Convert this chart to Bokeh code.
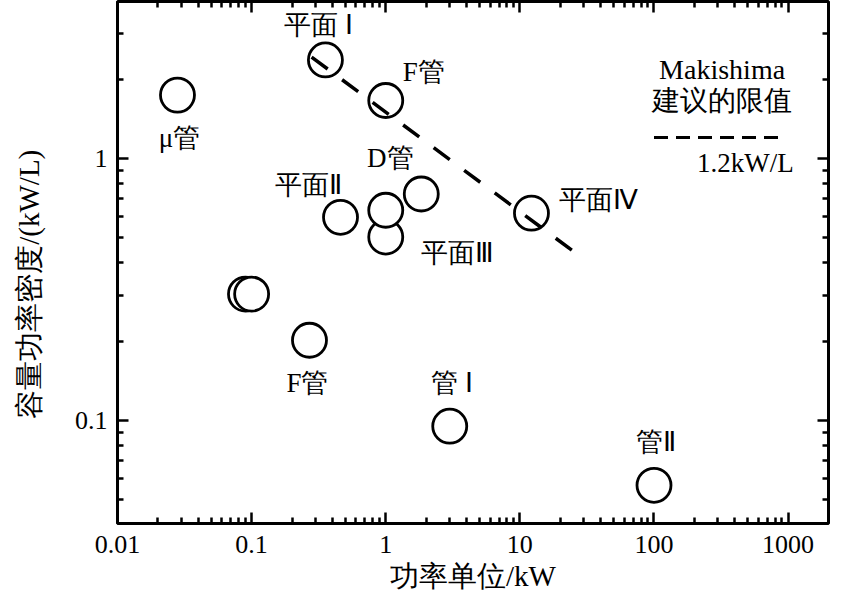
from bokeh.plotting import figure
from bokeh.models import LogAxis, FixedTicker, Range1d, ColumnDataSource
from bokeh.core.properties import value
from bokeh.embed import file_html
from bokeh.resources import INLINE

# ---- data ----
power_kw = [0.028, 0.355, 1.0, 1.84, 0.46, 1.0, 12.2, 0.27, 3.0, 100.0, 0.09, 0.1, 1.0]
density = [1.74, 2.37, 1.66, 0.73, 0.595, 0.50, 0.617, 0.202, 0.095, 0.0565, 0.303, 0.303, 0.633]
point_labels = ["μ管", "平面 Ⅰ", "F管", "D管", "平面Ⅱ", "平面Ⅲ", "平面Ⅳ", "F管", "管 Ⅰ", "管Ⅱ", "", "", ""]
label_dx = [2, -7, 38, -31, -32, 72, 67, -2, 2, 2, 0, 0, 0]
label_dy = [43, -35, -28, -36, -32, 16, -13, 43, -43, -43, 0, 0, 0]

limit_x = [0.28, 24.5]
limit_y = [2.43, 0.445]

legend_line_x = [100, 900]
legend_value = 1.2

x_ticks = [0.01, 0.1, 1, 10, 100, 1000]
y_ticks = [0.1, 1]

FONT = "Liberation Serif"

x_minor = [m * 10.0 ** e for e in range(-2, 3) for m in range(2, 10)]
y_minor = [m * 10.0 ** e for e in range(-2, 1) for m in range(2, 10) if m * 10.0 ** e > 0.04] + [2, 3]

p = figure(width=848, height=606, x_axis_type="log", y_axis_type="log",
           x_range=Range1d(0.01, 2000), y_range=Range1d(0.0404, 3.96),
           output_backend="svg", toolbar_location=None,
           min_border_left=117, min_border_right=20, min_border_top=1, min_border_bottom=83)
p.grid.visible = False
p.outline_line_color = "black"
p.outline_line_width = 3
p.background_fill_color = "white"
p.border_fill_color = "white"

xt = FixedTicker(ticks=x_ticks, minor_ticks=x_minor)
yt = FixedTicker(ticks=y_ticks, minor_ticks=y_minor)

def style_axis(ax, ticker, show_labels):
    ax.ticker = ticker
    ax.axis_line_color = None
    ax.major_tick_in = 11
    ax.major_tick_out = 0
    ax.minor_tick_in = 6
    ax.minor_tick_out = 0
    ax.major_tick_line_width = 2.5
    ax.minor_tick_line_width = 2.5
    ax.major_tick_line_color = "black"
    ax.minor_tick_line_color = "black"
    ax.major_label_text_font = FONT
    ax.major_label_text_color = "black"
    ax.axis_label_text_font = FONT
    ax.axis_label_text_font_style = "normal"
    ax.axis_label_text_color = "black"
    if not show_labels:
        ax.major_label_text_font_size = "1px"
        ax.major_label_text_alpha = 0
        ax.major_label_standoff = 0

style_axis(p.xaxis[0], xt, True)
style_axis(p.yaxis[0], yt, True)
p.xaxis[0].major_label_overrides = {0.01: "0.01", 0.1: "0.1", 1: "1", 10: "10", 100: "100", 1000: "1000"}
p.yaxis[0].major_label_overrides = {0.1: "0.1", 1: "1"}
p.xaxis[0].major_label_text_font_size = "26px"
p.yaxis[0].major_label_text_font_size = "26px"
p.xaxis[0].major_label_standoff = 12
p.yaxis[0].major_label_standoff = 10
p.xaxis[0].axis_label = "功率单位/kW"
# trailing no-break spaces nudge the rotated title downwards, as in the reference
p.yaxis[0].axis_label = "容量功率密度/(kW/L)" + "\u00a0" * 6
p.xaxis[0].axis_label_text_font_size = "29px"
p.yaxis[0].axis_label_text_font_size = "29px"
p.xaxis[0].axis_label_standoff = 4
p.yaxis[0].axis_label_standoff = 27

right = LogAxis()
style_axis(right, yt, False)
p.add_layout(right, "right")
top = LogAxis()
style_axis(top, xt, False)
p.add_layout(top, "above")

src = ColumnDataSource(dict(x=power_kw, y=density, t=point_labels, dx=label_dx, dy=label_dy))
p.scatter("x", "y", source=src, marker="circle", size=34, fill_color="white",
          line_color="black", line_width=2.8)
p.line(limit_x, limit_y, line_color="black", line_width=3.5, line_dash="20 18")
p.text("x", "y", text="t", source=src, x_offset="dx", y_offset="dy",
       text_align="center", text_baseline="middle", text_font=value(FONT),
       text_font_size="27px", text_color="black")

# legend-style annotation
p.line(legend_line_x, [legend_value, legend_value], line_color="black", line_width=3, line_dash="14 8")
p.text(x=[322, 322], y=[2.17, 1.66], text=["Makishima", "建议的限值"], text_align="center",
       text_baseline="middle", text_font=value(FONT), text_font_size="28px", text_color="black")
p.text(x=[1100], y=[legend_value], y_offset=[26], text=["1.2kW/L"], text_align="right",
       text_baseline="middle", text_font=value(FONT), text_font_size="27px", text_color="black")

open("out.html", "w").write(file_html(p, INLINE))
